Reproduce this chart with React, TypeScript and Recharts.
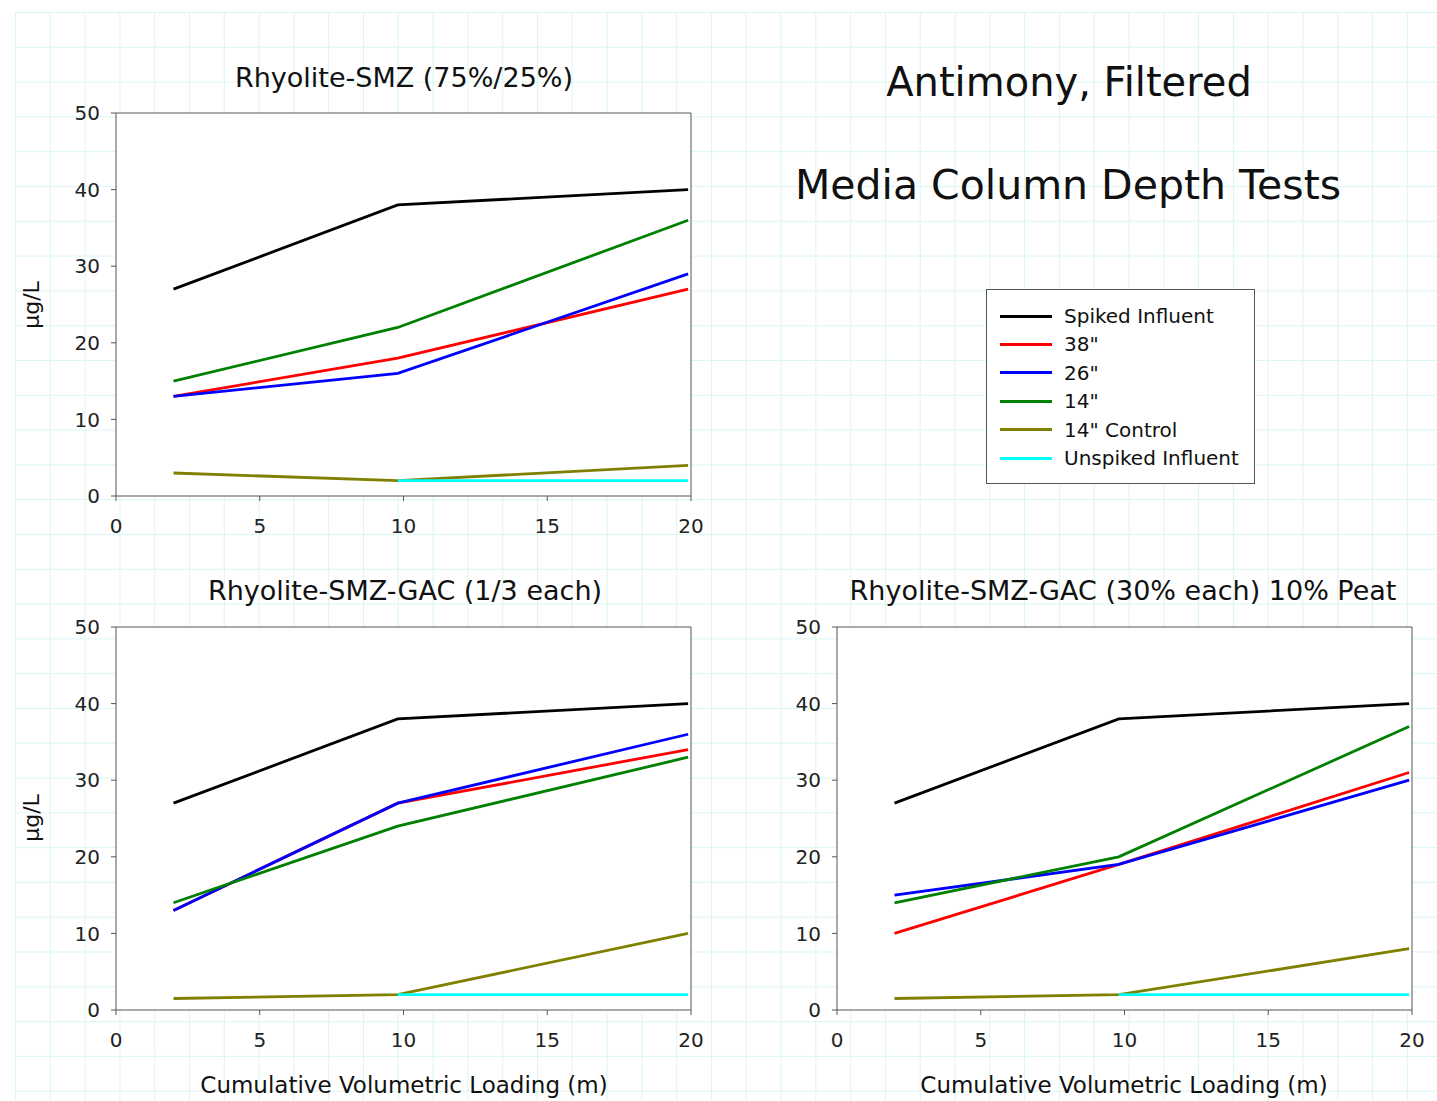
import React from 'react';
import { LineChart, Line, XAxis, YAxis, ReferenceLine, ReferenceArea } from 'recharts';

// cumulative volumetric loading (m) at each sampling
const loading = [2, 9.8, 19.9];

// Rhyolite-SMZ (75%/25%)
const smzSpiked = [27, 38, 40];
const smz38 = [13, 18, 27];
const smz26 = [13, 16, 29];
const smz14 = [15, 22, 36];
const smzControl = [3, 2, 4];
const smzUnspiked = [null, 2, 2];

// Rhyolite-SMZ-GAC (1/3 each)
const gacSpiked = [27, 38, 40];
const gac38 = [13, 27, 34];
const gac26 = [13, 27, 36];
const gac14 = [14, 24, 33];
const gacControl = [1.5, 2, 10];
const gacUnspiked = [null, 2, 2];

// Rhyolite-SMZ-GAC (30% each) 10% Peat
const peatSpiked = [27, 38, 40];
const peat38 = [10, 19, 31];
const peat26 = [15, 19, 30];
const peat14 = [14, 20, 37];
const peatControl = [1.5, 2, 8];
const peatUnspiked = [null, 2, 2];

const seriesNames = ['Spiked Influent', '38"', '26"', '14"', '14" Control', 'Unspiked Influent'];
const seriesColors = ['#000000', '#ff0000', '#0000ff', '#008000', '#808000', '#00ffff'];
const xTicks = [0, 5, 10, 15, 20];
const yTicks = [0, 10, 20, 30, 40, 50];

const FONT = '"DejaVu Sans", Arial, sans-serif';
const PLOT_W = 575;
const PLOT_H = 383;
const AXIS_W = 116;
const PAD_TOP = 20;
const PAD_RIGHT = 30;

type Series = (number | null)[];

const Panel = ({ left, top, series }: { left: number; top: number; series: Series[] }) => {
  const data = loading.map((x, i) => {
    const row: Record<string, number | null> = { x };
    series.forEach((s, k) => { row['s' + k] = s[i]; });
    return row;
  });
  const tick = { fill: '#222', fontSize: 20, fontFamily: FONT };
  return (
    <div style={{ position: 'absolute', left: left - AXIS_W, top: top - PAD_TOP }}>
      <LineChart
        width={AXIS_W + PLOT_W + PAD_RIGHT}
        height={PAD_TOP + PLOT_H + 50}
        data={data}
        margin={{ top: PAD_TOP, right: PAD_RIGHT, bottom: 0, left: 0 }}
      >
        <ReferenceArea x1={0} x2={20} y1={0} y2={50} fill="#ffffff" fillOpacity={1} stroke="none" />
        <XAxis
          type="number"
          dataKey="x"
          domain={[0, 20]}
          ticks={xTicks}
          interval={0}
          height={50}
          tickSize={5}
          tickMargin={18}
          stroke="#555"
          tick={tick}
        />
        <YAxis
          type="number"
          domain={[0, 50]}
          ticks={yTicks}
          interval={0}
          width={AXIS_W}
          tickSize={5}
          tickMargin={11}
          stroke="#555"
          tick={tick}
        />
        <ReferenceLine y={50} stroke="#555" />
        <ReferenceLine x={20} stroke="#555" />
        {series.map((_, k) => (
          <Line
            key={k}
            type="linear"
            dataKey={'s' + k}
            stroke={seriesColors[k]}
            strokeWidth={2.8}
            dot={false}
            isAnimationActive={false}
          />
        ))}
      </LineChart>
    </div>
  );
};

const text = (style: React.CSSProperties): React.CSSProperties => ({
  position: 'absolute',
  fontFamily: FONT,
  color: '#111',
  whiteSpace: 'nowrap',
  lineHeight: 1,
  transform: 'translate(-50%, -50%)',
  ...style,
});

const App = () => {
  return (
    <div style={{ position: 'absolute', left: 0, top: 0, width: 1437, height: 1101, background: '#fff', overflow: 'hidden' }}>
      {/* graph-paper background */}
      <div
        style={{
          position: 'absolute',
          left: 15,
          top: 12,
          width: 1422,
          height: 1089,
          backgroundImage:
            'linear-gradient(to right, #d9f7f1 1.3px, transparent 1.3px), linear-gradient(to bottom, #d9f7f1 1.3px, transparent 1.3px)',
          backgroundSize: '34.8px 34.8px',
        }}
      />

      <Panel left={116} top={113} series={[smzSpiked, smz38, smz26, smz14, smzControl, smzUnspiked]} />
      <Panel left={116} top={627} series={[gacSpiked, gac38, gac26, gac14, gacControl, gacUnspiked]} />
      <Panel left={837} top={627} series={[peatSpiked, peat38, peat26, peat14, peatControl, peatUnspiked]} />

      <div style={text({ left: 404, top: 77, fontSize: 27 })}>Rhyolite-SMZ (75%/25%)</div>
      <div style={text({ left: 405, top: 590, fontSize: 27 })}>Rhyolite-SMZ-GAC (1/3 each)</div>
      <div style={text({ left: 1123, top: 590, fontSize: 27 })}>Rhyolite-SMZ-GAC (30% each) 10% Peat</div>

      <div style={text({ left: 1069, top: 82, fontSize: 40 })}>Antimony, Filtered</div>
      <div style={text({ left: 1068, top: 185, fontSize: 41 })}>Media Column Depth Tests</div>

      <div style={text({ left: 32, top: 305, fontSize: 22, transform: 'translate(-50%, -50%) rotate(-90deg)' })}>μg/L</div>
      <div style={text({ left: 32, top: 818, fontSize: 22, transform: 'translate(-50%, -50%) rotate(-90deg)' })}>μg/L</div>

      <div style={text({ left: 404, top: 1085, fontSize: 23 })}>Cumulative Volumetric Loading (m)</div>
      <div style={text({ left: 1124, top: 1085, fontSize: 23 })}>Cumulative Volumetric Loading (m)</div>

      {/* legend */}
      <div
        style={{
          position: 'absolute',
          left: 986,
          top: 289,
          width: 267,
          height: 193,
          border: '1px solid #555',
          background: '#fff',
        }}
      >
        {seriesNames.map((name, k) => (
          <div key={name} style={{ position: 'absolute', left: 0, top: 26 + k * 28.4, width: '100%' }}>
            <div style={{ position: 'absolute', left: 13, top: -1.5, width: 52, height: 3, background: seriesColors[k] }} />
            <div style={text({ left: 77, top: 0, fontSize: 20, transform: 'translate(0, -50%)' })}>{name}</div>
          </div>
        ))}
      </div>
    </div>
  );
};

export default App;
